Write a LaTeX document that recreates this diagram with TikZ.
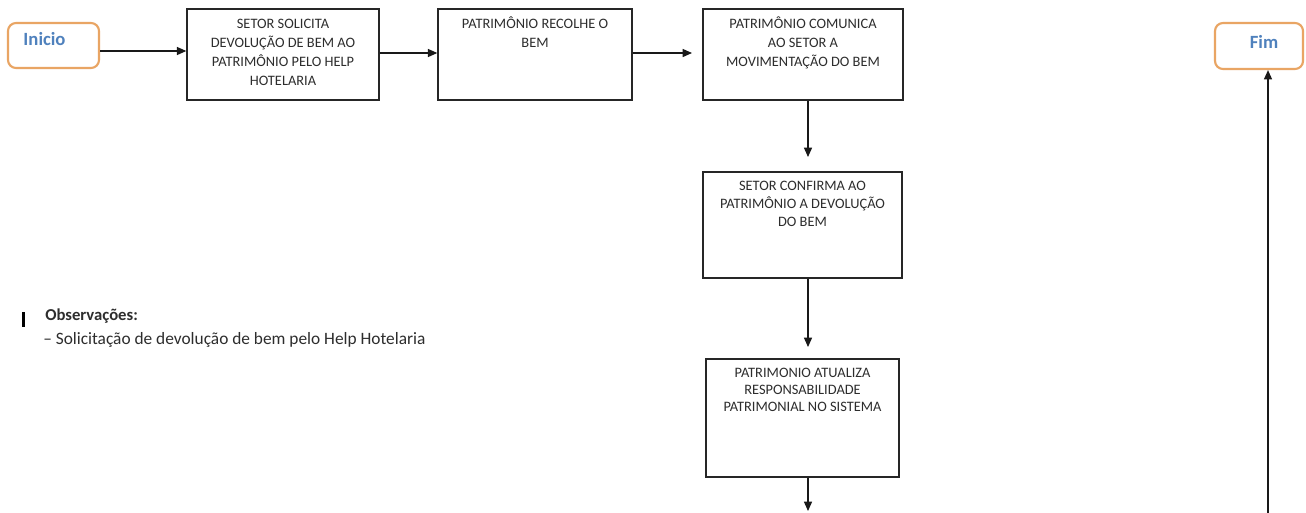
\documentclass[tikz,border=0pt]{standalone}
\usepackage{fontspec}
\setmainfont{Carlito}
\usetikzlibrary{arrows.meta,calc}
\definecolor{orangeb}{RGB}{233,165,100}
\definecolor{bluet}{RGB}{79,129,189}
\definecolor{txtc}{RGB}{45,45,45}
\begin{document}
\begin{tikzpicture}[x=0.75pt,y=-0.75pt,
  box/.style={draw=black!85, line width=1.1pt, rectangle, inner sep=0pt},
  lbl/.style={anchor=north, inner sep=0pt, yshift=-5.25pt, align=center, text=txtc, font=\fontsize{10.8}{14.2}\selectfont},
  term/.style={draw=orangeb, line width=1.6pt, rounded corners=6pt, fill=white, inner sep=0pt},
  termtxt/.style={text=bluet, font=\fontsize{14}{16}\selectfont\bfseries, inner sep=0pt},
  arr/.style={draw=black!90, line width=1pt, -{Triangle[length=7pt,width=6pt]}}]
\useasboundingbox[fill=white] (0,0) rectangle (1306,512);

\node[term, minimum width=68.25pt, minimum height=33.75pt,
  label={[termtxt, xshift=-6.75pt, yshift=4.9pt]center:Inicio}] (inicio) at (53.5,45.5) {};
\node[term, minimum width=66pt, minimum height=34.5pt,
  label={[termtxt, xshift=3.75pt, yshift=3pt]center:Fim}] (fim) at (1259,46) {};

\node[box, minimum width=144pt, minimum height=68.25pt,
  label={[lbl]north:{\strut SETOR SOLICITA\\DEVOLUÇÃO DE BEM AO\\PATRIMÔNIO PELO HELP\\HOTELARIA}}] (box1) at (283,54.5) {};
\node[box, minimum width=145.5pt, minimum height=68.25pt,
  label={[lbl]north:{\strut PATRIMÔNIO RECOLHE O\\BEM}}] (box2) at (535,54.5) {};
\node[box, minimum width=150pt, minimum height=68.25pt,
  label={[lbl]north:{\strut PATRIMÔNIO COMUNICA\\AO SETOR A\\MOVIMENTAÇÃO DO BEM}}] (box3) at (803,54.5) {};
\node[box, minimum width=149.25pt, minimum height=79.5pt,
  label={[lbl, font=\fontsize{10.8}{13.2}\selectfont]north:{\strut SETOR CONFIRMA AO\\PATRIMÔNIO A DEVOLUÇÃO\\DO BEM}}] (box4) at (802.5,225) {};
\node[box, minimum width=144.75pt, minimum height=88.5pt,
  label={[lbl, yshift=0.5pt, font=\fontsize{10.8}{13}\selectfont]north:{\strut PATRIMONIO ATUALIZA\\RESPONSABILIDADE\\PATRIMONIAL NO SISTEMA}}] (box5) at (802.5,418) {};

% observations
\fill[black] (22,312) rectangle (25,327);
\node[anchor=west, inner sep=0pt, text=txtc, font=\fontsize{12.5}{14}\selectfont\bfseries] (obs) at (45,316) {Observações:};
\node[anchor=west, inner sep=0pt, text=txtc, font=\fontsize{13}{15}\selectfont] (obs1) at (43,340) {– Solicitação de devolução de bem pelo Help Hotelaria};

% connectors
\coordinate (ya) at (0,51);
\coordinate (yb) at (0,53);
\coordinate (xd) at (808,0);
\coordinate (t3) at (692,53);
\coordinate (t4) at (808,157);
\coordinate (t5) at (808,347);
\coordinate (t6) at (808,511);
\coordinate (fs) at (1268,513);
\draw[arr] (inicio.east |- ya) -- (box1.west |- ya);
\draw[arr] (box1.east |- yb) -- (box2.west |- yb);
\draw[arr] (box2.east |- yb) -- (t3);
\draw[arr] (box3.south -| xd) -- (t4);
\draw[arr] (box4.south -| xd) -- (t5);
\draw[arr] (box5.south -| xd) -- (t6);
\draw[arr] (fs) -- (fim.south -| fs);
\end{tikzpicture}
\end{document}
